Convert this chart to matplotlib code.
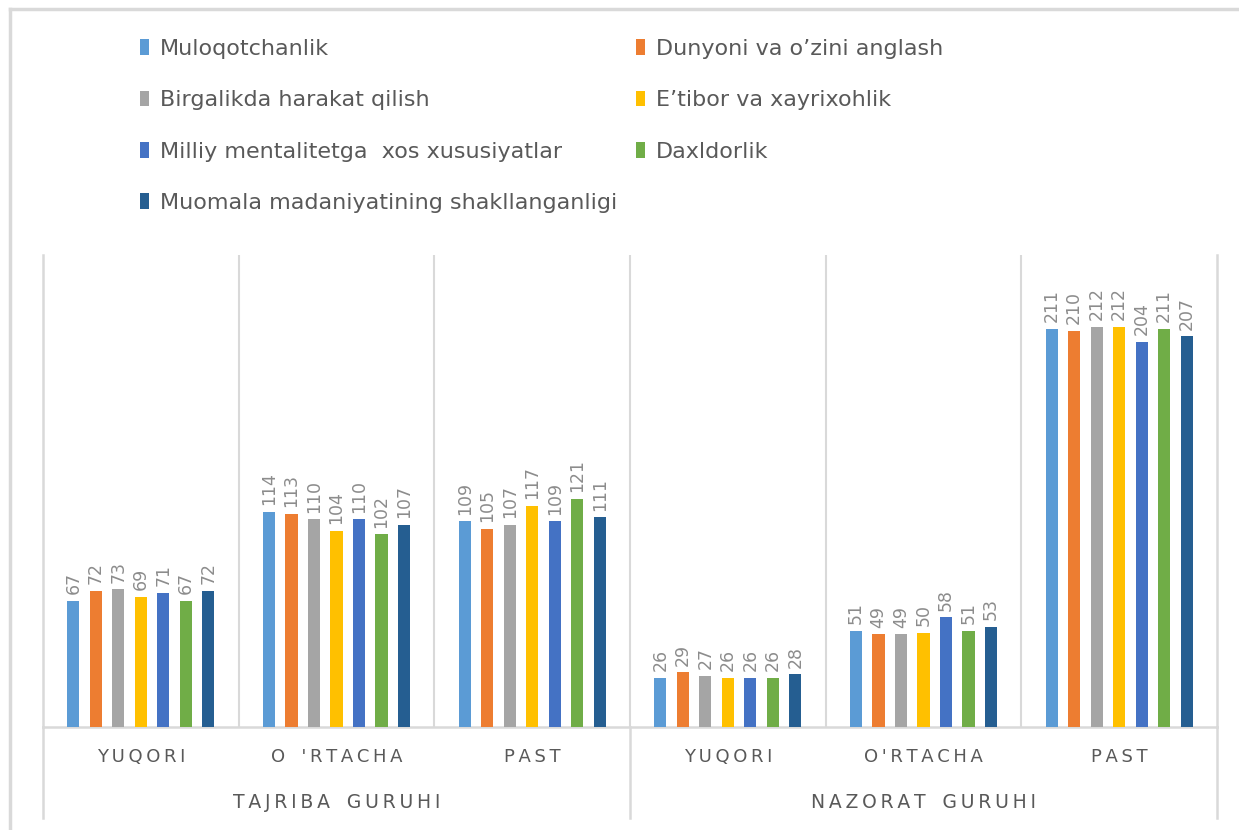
import matplotlib
matplotlib.use("Agg")
import matplotlib.pyplot as plt
from matplotlib.lines import Line2D
import numpy as np

categories = ["YUQORI", "O 'RTACHA", "PAST", "YUQORI", "O'RTACHA", "PAST"]
groups = ["TAJRIBA GURUHI", "NAZORAT GURUHI"]

series_names = [
    "Muloqotchanlik",
    "Dunyoni va o\u2019zini anglash",
    "Birgalikda harakat qilish",
    "E\u2019tibor va xayrixohlik",
    "Milliy mentalitetga  xos xususiyatlar",
    "Daxldorlik",
    "Muomala madaniyatining shakllanganligi",
]
muloqotchanlik = [67, 114, 109, 26, 51, 211]
dunyoni = [72, 113, 105, 29, 49, 210]
birgalikda = [73, 110, 107, 27, 49, 212]
etibor = [69, 104, 117, 26, 50, 212]
milliy = [71, 110, 109, 26, 58, 204]
daxldorlik = [67, 102, 121, 26, 51, 211]
muomala = [72, 107, 111, 28, 53, 207]
series = [muloqotchanlik, dunyoni, birgalikda, etibor, milliy, daxldorlik, muomala]

colors = ["#5B9BD5", "#ED7D31", "#A5A5A5", "#FFC000", "#4472C4", "#70AD47", "#255E91"]


def spaced(s):
    # excel-like letter spacing
    return "\u2009".join(s.replace(" ", "\u2002"))


W, H = 1239, 830
fig = plt.figure(figsize=(W / 100, H / 100), dpi=100)
ax = fig.add_axes([43 / W, 1 - 727 / H, (1217 - 43) / W, (727 - 255) / H])

x = np.arange(len(categories))
slot = 0.115
bw = 0.062
for i, (name, vals, c) in enumerate(zip(series_names, series, colors)):
    xs = x + (i - 3) * slot
    ax.bar(xs, vals, width=bw, color=c, label=name, zorder=3)
    for xi, v in zip(xs, vals):
        ax.text(xi, v + 3.5, str(v), rotation=90, ha="center", va="bottom",
                fontsize=12.5, color="#8C8C8C", zorder=4)

ax.set_xlim(-0.5, len(categories) - 0.5)
ax.set_ylim(0, 250)
ax.set_yticks([])
ax.set_xticks([])
grid_c = "#D9D9D9"
for b in np.arange(0.5, len(categories) - 0.5, 1):
    ax.axvline(b, color=grid_c, lw=1.5, zorder=1)
ax.spines["top"].set_visible(False)
for s in ["left", "right", "bottom"]:
    ax.spines[s].set_color(grid_c)
    ax.spines[s].set_linewidth(1.8)

# category and group labels under the axis
trans = ax.get_xaxis_transform()
for xi, lab in zip(x, categories):
    ax.text(xi, -0.064, spaced(lab), transform=trans, ha="center", va="center",
            fontsize=13, color="#595959")
for gi, lab in enumerate(groups):
    ax.text(gi * 3 + 1, -0.161, spaced(lab), transform=trans, ha="center",
            va="center", fontsize=13.5, color="#595959")
for b in [-0.5, 2.5, 5.5]:
    ax.plot([b, b], [0, -0.193], transform=trans, color=grid_c, lw=1.8,
            clip_on=False)

handles, labels = ax.get_legend_handles_labels()
order = [0, 2, 4, 6, 1, 3, 5]
leg = fig.legend([handles[k] for k in order], [labels[k] for k in order],
                 loc="upper left", bbox_to_anchor=(120 / W, 1 - 19 / H), ncol=2,
                 frameon=False, fontsize=16, handlelength=0.4, handleheight=0.72,
                 handletextpad=0.5, labelspacing=1.41, columnspacing=0.85)
for t in leg.get_texts():
    t.set_color("#595959")

# outer chart frame (top and left edges visible)
fig.add_artist(Line2D([10 / W, 1], [1 - 9 / H, 1 - 9 / H], transform=fig.transFigure,
                      color=grid_c, lw=2.5))
fig.add_artist(Line2D([10 / W, 10 / W], [0, 1 - 9 / H], transform=fig.transFigure,
                      color=grid_c, lw=2.5))

fig.savefig("out.png", dpi=100)
